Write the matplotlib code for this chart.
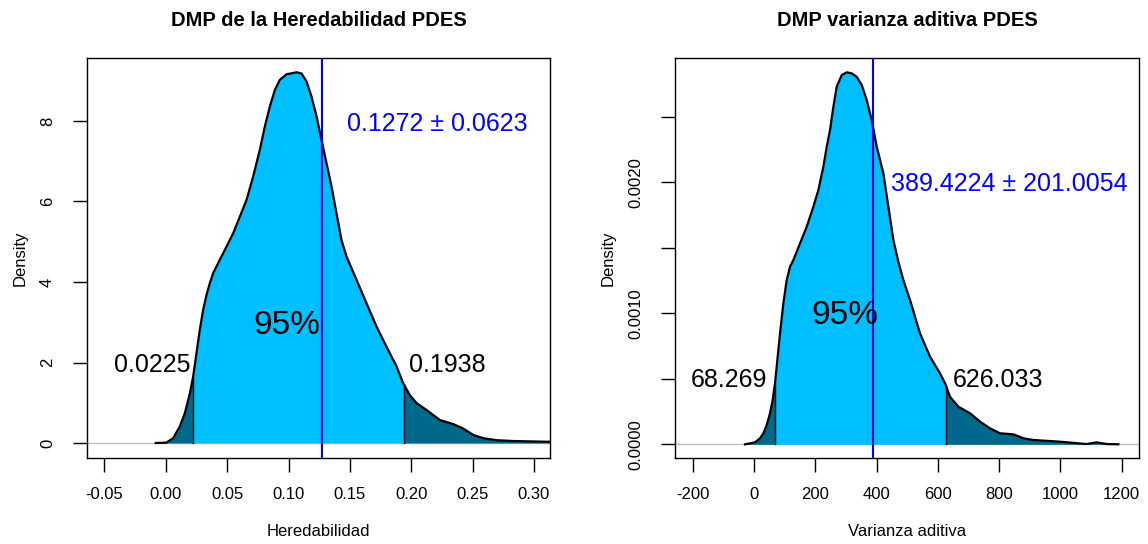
import numpy as np
import matplotlib
matplotlib.use("Agg")
import matplotlib.pyplot as plt

plt.rcParams["font.family"] = ["Liberation Sans", "DejaVu Sans"]

# posterior density of heritability
h2_x = [-0.0082, 0.0005, 0.0060, 0.0114, 0.0155, 0.0196, 0.0223, 0.0250, 0.0277,
        0.0304, 0.0332, 0.0359, 0.0386, 0.0440, 0.0495, 0.0549, 0.0603, 0.0658,
        0.0712, 0.0766, 0.0807, 0.0848, 0.0889, 0.0929, 0.0984, 0.1066, 0.1106,
        0.1147, 0.1188, 0.1229, 0.1269, 0.1310, 0.1351, 0.1391, 0.1432, 0.1473,
        0.1555, 0.1636, 0.1718, 0.1799, 0.1881, 0.1935, 0.1989, 0.2044, 0.2125,
        0.2234, 0.2343, 0.2424, 0.2506, 0.2587, 0.2696, 0.2831, 0.3131, 0.3300]
h2_y = [0.0, 0.01, 0.12, 0.41, 0.74, 1.23, 1.65, 2.23, 2.81,
        3.30, 3.68, 3.97, 4.22, 4.55, 4.88, 5.21, 5.62, 6.04,
        6.62, 7.28, 7.86, 8.36, 8.77, 9.02, 9.16, 9.21, 9.18,
        8.98, 8.60, 8.11, 7.53, 6.95, 6.37, 5.71, 5.04, 4.63,
        4.05, 3.47, 2.89, 2.39, 1.90, 1.48, 1.19, 0.99, 0.82,
        0.57, 0.47, 0.36, 0.20, 0.12, 0.07, 0.05, 0.03, 0.015]

# posterior density of additive variance
va_x = [-29.4, 3.3, 19.6, 30.5, 41.4, 52.2, 60.9, 68.6, 76.2, 84.9, 95.8, 106.7,
        117.6, 128.5, 150.2, 172.0, 193.8, 210.0, 226.5, 237.4, 248.2, 259.1,
        270.0, 286.4, 302.7, 319.0, 335.3, 351.7, 368.0, 384.3, 400.7, 422.4,
        438.7, 455.0, 471.3, 487.6, 509.4, 542.0, 574.7, 607.3, 623.7, 640.0,
        667.2, 705.3, 738.0, 770.6, 803.3, 846.8, 879.5, 912.0, 999.2, 1086.0,
        1119.0, 1151.7, 1189.6]
va_y = [0.0, 0.000015, 0.000046, 0.000084, 0.000147, 0.000237, 0.000338, 0.000466,
        0.000644, 0.000847, 0.001076, 0.001254, 0.001356, 0.001407, 0.001534,
        0.001661, 0.001814, 0.001941, 0.002119, 0.002272, 0.002399, 0.002577,
        0.00273, 0.002819, 0.00284, 0.002832, 0.002806, 0.002743, 0.002628,
        0.002476, 0.002272, 0.002069, 0.001814, 0.00156, 0.001394, 0.001254,
        0.001102, 0.000847, 0.000669, 0.000542, 0.000466, 0.000363, 0.000287,
        0.000237, 0.000173, 0.000122, 0.000084, 0.000076, 0.000046, 0.000033,
        0.00002, 0.000002, 0.000015, 0.000002, 0.0]

h2_mean, h2_sd = 0.1272, 0.0623
h2_ci = [0.0225, 0.1938]
va_mean, va_sd = 389.4224, 201.0054
va_ci = [68.269, 626.033]

LIGHT = "#00BFFF"
DARK = "#00688B"

fig = plt.figure(figsize=(11.48, 5.44), dpi=100)
ax1 = fig.add_axes([0.0758, 0.1575, 0.4033, 0.7353])
ax2 = fig.add_axes([0.588, 0.1575, 0.4044, 0.7353])


def draw_density(ax, xs, ys, ci, mean):
    xs = np.asarray(xs, float)
    ys = np.asarray(ys, float)
    lo, hi = ci
    # add the interval limits to the curve so the fills meet exactly
    xf = np.sort(np.concatenate([xs, ci]))
    yf = np.interp(xf, xs, ys)
    ax.axhline(0, color="#BEBEBE", lw=1, zorder=1)
    ax.fill_between(xf, 0, yf, where=(xf <= lo), color=DARK, lw=0, zorder=2)
    ax.fill_between(xf, 0, yf, where=(xf >= hi), color=DARK, lw=0, zorder=2)
    ax.fill_between(xf, 0, yf, where=(xf >= lo) & (xf <= hi), color=LIGHT, lw=0, zorder=2)
    for q in ci:
        ax.plot([q, q], [0, np.interp(q, xs, ys)], color="black", lw=1, zorder=3)
    ax.plot(xs, ys, color="black", lw=1.6, zorder=4, solid_joinstyle="round")
    ax.axvline(mean, color="blue", lw=1.5, zorder=5)


def style_axes(ax):
    for side in ["top", "right", "left", "bottom"]:
        ax.spines[side].set_linewidth(1)
    ax.tick_params(axis="both", length=10, width=1, labelsize=12, colors="black")
    ax.tick_params(axis="x", pad=11)
    ax.tick_params(axis="y", pad=13)
    for lbl in ax.get_yticklabels():
        lbl.set_rotation(90)
        lbl.set_va("center")


# left panel
draw_density(ax1, h2_x, h2_y, h2_ci, h2_mean)
ax1.set_xlim(-0.0642, 0.3131)
ax1.set_ylim(-0.380, 9.557)
ax1.set_xticks(np.arange(-0.05, 0.31, 0.05))
ax1.set_xticklabels(["-0.05", "0.00", "0.05", "0.10", "0.15", "0.20", "0.25", "0.30"])
ax1.set_yticks([0, 2, 4, 6, 8])
ax1.set_yticklabels(["0", "2", "4", "6", "8"])
style_axes(ax1)
ax1.set_title("DMP de la Heredabilidad PDES", fontsize=14.5, fontweight="bold", pad=23)
ax1.text(0.2213, 7.93, f"{h2_mean} \u00b1 {h2_sd}", color="blue", fontsize=18,
         ha="center", va="center")
ax1.text(0.0989, 2.93, "95%", fontsize=24, ha="center", va="center", zorder=6)
ax1.text(-0.0112, 1.94, f"{h2_ci[0]}", fontsize=18, ha="center", va="center")
ax1.text(0.2293, 1.94, f"{h2_ci[1]}", fontsize=18, ha="center", va="center")

# right panel
draw_density(ax2, va_x, va_y, va_ci, va_mean)
ax2.set_xlim(-258, 1258)
ax2.set_ylim(-0.000107, 0.002947)
ax2.set_xticks(np.arange(-200, 1201, 200))
ax2.set_xticklabels(["-200", "0", "200", "400", "600", "800", "1000", "1200"])
ax2.set_yticks([0, 0.0005, 0.001, 0.0015, 0.002, 0.0025])
ax2.set_yticklabels(["0.0000", "", "0.0010", "", "0.0020", ""])
style_axes(ax2)
ax2.set_title("DMP varianza aditiva PDES", fontsize=14.5, fontweight="bold", pad=23)
ax2.text(832.7, 0.001987, f"{va_mean} \u00b1 {va_sd}", color="blue", fontsize=18,
         ha="center", va="center")
ax2.text(297, 0.000987, "95%", fontsize=24, ha="center", va="center", zorder=6)
ax2.text(-81.6, 0.000491, f"{va_ci[0]}", fontsize=18, ha="center", va="center")
ax2.text(797.8, 0.000491, f"{va_ci[1]}", fontsize=18, ha="center", va="center")

# axis titles
fig.text(318.5 / 1148, 1 - 532 / 544, "Heredabilidad", fontsize=12, ha="center", va="center")
fig.text(907 / 1148, 1 - 532 / 544, "Varianza aditiva", fontsize=12, ha="center", va="center")
fig.text(20 / 1148, 1 - 258 / 544, "Density", fontsize=12, rotation=90, ha="center", va="center")
fig.text(608 / 1148, 1 - 258 / 544, "Density", fontsize=12, rotation=90, ha="center", va="center")

fig.savefig("out.png", dpi=100)
